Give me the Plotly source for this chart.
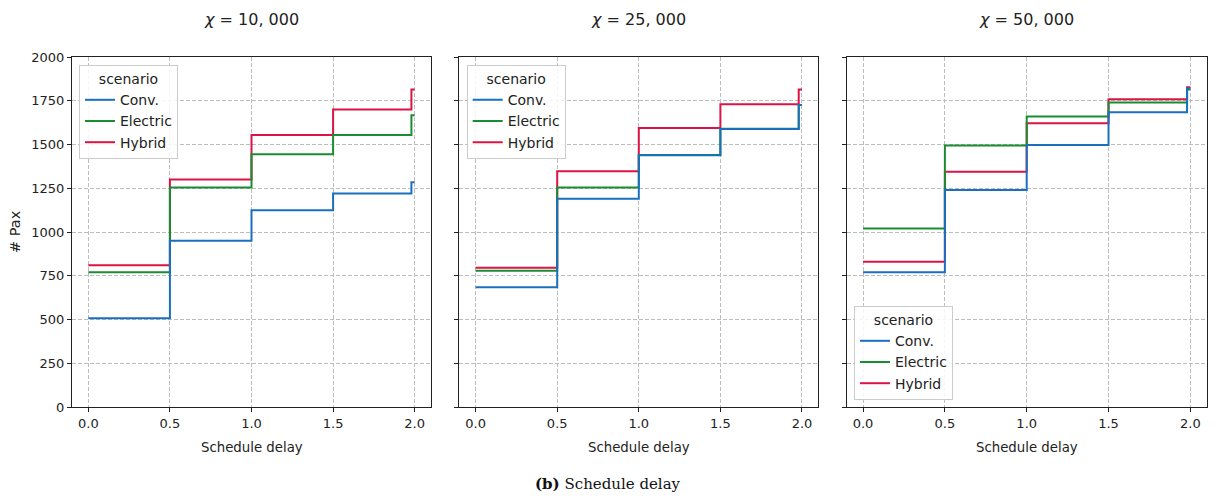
import plotly.graph_objects as go

# ---- data ----
delay = [0.0, 0.5, 1.0, 1.5, 1.98, 2.0]
scenarios = ["Conv.", "Electric", "Hybrid"]
titles = ["<i>χ</i> = 10, 000", "<i>χ</i> = 25, 000", "<i>χ</i> = 50, 000"]
x_ticks = [0.0, 0.5, 1.0, 1.5, 2.0]
x_tick_labels = ["0.0", "0.5", "1.0", "1.5", "2.0"]
y_ticks = [0, 250, 500, 750, 1000, 1250, 1500, 1750, 2000]

conv_10k = [507, 950, 1125, 1220, 1284, 1284]
elec_10k = [770, 1255, 1445, 1555, 1667, 1667]
hyb_10k = [810, 1300, 1555, 1700, 1815, 1815]

conv_25k = [684, 1190, 1438, 1589, 1726, 1726]
elec_25k = [779, 1255, 1440, 1590, 1726, 1726]
hyb_25k = [796, 1347, 1594, 1730, 1815, 1815]

conv_50k = [770, 1240, 1497, 1685, 1820, 1820]
elec_50k = [1020, 1495, 1660, 1740, 1815, 1815]
hyb_50k = [830, 1345, 1621, 1758, 1827, 1827]

panels = [
    {"Conv.": conv_10k, "Electric": elec_10k, "Hybrid": hyb_10k},
    {"Conv.": conv_25k, "Electric": elec_25k, "Hybrid": hyb_25k},
    {"Conv.": conv_50k, "Electric": elec_50k, "Hybrid": hyb_50k},
]

colors = {"Conv.": "#1a6fbf", "Electric": "#1a8c32", "Hybrid": "#dc1446"}

W, H = 1219, 496
x_domains = [[72 / W, 431 / W], [459.3 / W, 818.3 / W], [846.7 / W, 1206.7 / W]]
y_domain = [1 - 407 / H, 1 - 57 / H]

FONT = "DejaVu Sans"
fig = go.Figure()

legend_names = ["legend", "legend2", "legend3"]
for i, data in enumerate(panels):
    xa = "x" if i == 0 else f"x{i+1}"
    ya = "y" if i == 0 else f"y{i+1}"
    # draw order: Hybrid, Electric, Conv (Conv on top)
    for s in ["Hybrid", "Electric", "Conv."]:
        fig.add_trace(go.Scatter(
            x=delay, y=data[s], mode="lines", name=s,
            line=dict(color=colors[s], width=2, shape="hv"),
            xaxis=xa, yaxis=ya, legend=legend_names[i], showlegend=True,
        ))

axis_common = dict(
    showline=True, linecolor="#222", linewidth=1, mirror=True,
    ticks="outside", ticklen=4, tickcolor="#222", tickwidth=1,
    showgrid=True, gridcolor="#bdbdbd", griddash="4px,2px", gridwidth=1,
    zeroline=False, automargin=False,
    tickfont=dict(family=FONT, size=13, color="#222"),
)

layout = dict(
    width=W, height=H, margin=dict(l=0, r=0, t=0, b=0, pad=0, autoexpand=False),
    plot_bgcolor="white", paper_bgcolor="white",
    font=dict(family=FONT, color="#222"),
)
for i in range(3):
    sx = "" if i == 0 else str(i + 1)
    layout["xaxis" + sx] = dict(
        axis_common, domain=x_domains[i], range=[-0.1, 2.1],
        tickvals=x_ticks, ticktext=x_tick_labels,
        anchor="y" + sx,
    )
    layout["yaxis" + sx] = dict(
        axis_common, domain=y_domain, range=[0, 2000],
        tickvals=y_ticks,
        showticklabels=(i == 0),
        anchor="x" + sx,
    )

legend_common = dict(
    bgcolor="rgba(255,255,255,0.85)", bordercolor="#cccccc", borderwidth=1,
    font=dict(family=FONT, size=14, color="#222"),
    title=dict(text="scenario", side="top center", font=dict(family=FONT, size=14, color="#222")),
    traceorder="reversed", xanchor="left",
)
layout["legend"] = dict(legend_common, x=79 / W, y=1 - 65 / H, yanchor="top")
layout["legend2"] = dict(legend_common, x=466.7 / W, y=1 - 65 / H, yanchor="top")
layout["legend3"] = dict(legend_common, x=854 / W, y=1 - 400 / H, yanchor="bottom")

annotations = []
for i in range(3):
    cx = (x_domains[i][0] + x_domains[i][1]) / 2
    annotations.append(dict(
        text=titles[i], x=cx, y=1 - 20 / H, xref="paper", yref="paper",
        showarrow=False, font=dict(family=FONT, size=16, color="#222"),
        xanchor="center", yanchor="middle",
    ))
    annotations.append(dict(
        text="Schedule delay", x=cx, y=1 - 447 / H, xref="paper", yref="paper",
        showarrow=False, font=dict(family=FONT, size=13.3, color="#222"),
        xanchor="center", yanchor="middle",
    ))
annotations.append(dict(
    text="# Pax", x=15 / W, y=1 - 232 / H, xref="paper", yref="paper",
    showarrow=False, textangle=-90, font=dict(family=FONT, size=14.5, color="#222"),
    xanchor="center", yanchor="middle",
))
annotations.append(dict(
    text="<b>(b)</b> Schedule delay", x=608 / W, y=1 - 484 / H, xref="paper", yref="paper",
    showarrow=False, font=dict(family="DejaVu Serif", size=15, color="#111"),
    xanchor="center", yanchor="middle",
))
layout["annotations"] = annotations

fig.update_layout(**layout)
fig.write_html("out.html")
